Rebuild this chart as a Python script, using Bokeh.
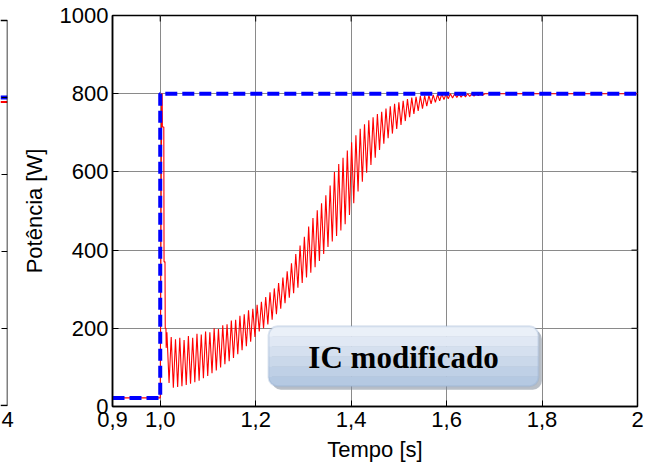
from bokeh.plotting import figure
from bokeh.models import FixedTicker, BoxAnnotation, Label
from bokeh.layouts import row
from bokeh.embed import file_html
from bokeh.resources import INLINE

# ---------------- data ----------------
x_ticks = [0.9, 1.0, 1.2, 1.4, 1.6, 1.8, 2.0]
x_tick_labels = ["0,9", "1,0", "1,2", "1,4", "1,6", "1,8", "2"]
y_ticks = [0, 200, 400, 600, 800, 1000]

# reference power (blue dashed)
ref_t = [0.9, 1.0, 1.0, 2.0]
ref_p = [22, 22, 800, 800]

# measured power (red) - initial transient
trans_t = [0.9, 1.0, 1.003, 1.004, 1.0045, 1.0075, 1.008, 1.0100, 1.0105, 1.0120, 1.0125]
trans_p = [22, 22, 800, 800, 715, 715, 370, 370, 200, 200, 150]

# measured power (red) - oscillation peaks
peak_t = [1.014, 1.023, 1.032, 1.041, 1.050, 1.059, 1.068, 1.077, 1.086, 1.095,
          1.104, 1.113, 1.122, 1.131, 1.140, 1.149, 1.158, 1.167, 1.176, 1.185,
          1.194, 1.203, 1.212, 1.221, 1.230, 1.239, 1.248, 1.257, 1.266, 1.275,
          1.284, 1.293, 1.302, 1.311, 1.320, 1.329, 1.338, 1.347, 1.356, 1.365,
          1.374, 1.383, 1.392, 1.401, 1.410, 1.419, 1.428, 1.437, 1.446, 1.455,
          1.464, 1.473, 1.482, 1.491, 1.500, 1.509, 1.518, 1.527, 1.536, 1.545,
          1.554, 1.563, 1.572, 1.581, 1.590, 1.599, 1.608, 1.617, 1.626, 1.635,
          1.644, 1.653, 1.662, 1.671]
peak_p = [190, 178, 172, 176, 170, 180, 176, 186, 184, 192,
          190, 200, 198, 208, 210, 220, 222, 232, 236, 246,
          250, 260, 268, 280, 292, 302, 316, 330, 346, 366,
          390, 412, 434, 460, 482, 502, 520, 540, 565, 600,
          620, 636, 655, 676, 694, 710, 722, 732, 740, 748,
          754, 762, 768, 774, 778, 782, 786, 790, 792, 794,
          795, 796, 797, 798, 799, 800, 800, 800, 800, 800,
          800, 800, 800, 800]
# measured power (red) - oscillation troughs
trough_t = [1.0185, 1.0275, 1.0365, 1.0455, 1.0545, 1.0635, 1.0725, 1.0815, 1.0905, 1.0995,
            1.1085, 1.1175, 1.1265, 1.1355, 1.1445, 1.1535, 1.1625, 1.1715, 1.1805, 1.1895,
            1.1985, 1.2075, 1.2165, 1.2255, 1.2345, 1.2435, 1.2525, 1.2615, 1.2705, 1.2795,
            1.2885, 1.2975, 1.3065, 1.3155, 1.3245, 1.3335, 1.3425, 1.3515, 1.3605, 1.3695,
            1.3785, 1.3875, 1.3965, 1.4055, 1.4145, 1.4235, 1.4325, 1.4415, 1.4505, 1.4595,
            1.4685, 1.4775, 1.4865, 1.4955, 1.5045, 1.5135, 1.5225, 1.5315, 1.5405, 1.5495,
            1.5585, 1.5675, 1.5765, 1.5855, 1.5945, 1.6035, 1.6125, 1.6215, 1.6305, 1.6395,
            1.6485, 1.6575, 1.6665, 1.6755]
trough_p = [60, 48, 50, 52, 55, 58, 62, 66, 72, 78,
            85, 92, 100, 108, 116, 124, 134, 144, 154, 166,
            178, 192, 200, 210, 222, 236, 250, 264, 278, 290,
            304, 316, 330, 342, 356, 372, 390, 408, 422, 436,
            450, 466, 490, 520, 550, 575, 598, 618, 636, 656,
            672, 686, 698, 710, 720, 730, 740, 748, 756, 762,
            768, 774, 778, 782, 785, 787, 789, 790, 791, 792,
            793, 794, 795, 796]
# steady state tail
tail_t = [1.68, 2.0]
tail_p = [800, 800]

# neighbouring (cut-off) panel on the left
left_x_ticks = [4]
left_x_tick_labels = ["4"]
left_t = [3.9, 4.0]
left_ref_p = [800, 800]
left_meas_p = [788, 788]

# ---------------- build red series ----------------
red_t = list(trans_t)
red_p = list(trans_p)
for a, b, c, d in zip(peak_t, peak_p, trough_t, trough_p):
    red_t += [a, c]
    red_p += [b, d]
red_t += tail_t
red_p += tail_p

FONT = "Liberation Sans"
FRAME_W, FRAME_H = 525, 391
TICK_PX = 6
B_TOP, B_BOT = 15, 65


def style_axis(ax, size="22px"):
    ax.major_tick_in = TICK_PX
    ax.major_tick_out = 0
    ax.minor_tick_line_color = None
    ax.major_label_text_font = FONT
    ax.major_label_text_font_size = size
    ax.major_label_text_color = "black"
    ax.axis_label_text_font = FONT
    ax.axis_label_text_font_size = "22px"
    ax.axis_label_text_font_style = "normal"
    ax.axis_label_text_color = "black"
    ax.axis_line_color = "black"
    ax.axis_line_width = 1.5
    ax.major_tick_line_color = "black"
    ax.major_label_standoff = 5


# ---------------- left sliver panel ----------------
# its own box is a little shorter than the main one: 1000 sits 5px below the main top
lf_lo, lf_hi = -2.6, 1013.0
lf = figure(width=14, height=B_TOP + FRAME_H + B_BOT, x_range=(3.9, 4.0), y_range=(lf_lo, lf_hi),
            output_backend="svg", toolbar_location=None,
            min_border_left=0, min_border_right=7, min_border_top=B_TOP, min_border_bottom=B_BOT,
            y_axis_location=None, background_fill_color="white", border_fill_color="white")
lf.outline_line_color = None
lf.grid.visible = False
lf.xaxis.ticker = FixedTicker(ticks=left_x_ticks)
lf.xaxis.major_label_overrides = {t: s for t, s in zip(left_x_ticks, left_x_tick_labels)}
style_axis(lf.xaxis[0])
lf.xaxis.axis_line_color = None
lf.xaxis.major_tick_line_color = None
lf.line(left_t, left_ref_p, line_color="#0000ff", line_width=4, line_dash="12 5")
lf.line(left_t, left_meas_p, line_color="#ff0000", line_width=2)
# box edges of the sliver
lf.segment(x0=[4.0, 3.9, 3.9], x1=[4.0, 4.0, 4.0], y0=[0, 1000, 0], y1=[1000, 1000, 0],
           line_color="black", line_width=1.5)
# inward ticks on the right edge of the sliver (from the y tick values)
lf_dx = 0.1 / 7 * TICK_PX
lf.segment(x0=[4.0] * len(y_ticks), x1=[4.0 - lf_dx] * len(y_ticks), y0=y_ticks, y1=y_ticks,
           line_color="black", line_width=1)

# ---------------- main panel ----------------
x0r, x1r, y0r, y1r = 0.9, 2.0, 0, 1000
p = figure(frame_width=FRAME_W, frame_height=FRAME_H, x_range=(x0r, x1r), y_range=(y0r, y1r),
           output_backend="svg", toolbar_location=None,
           min_border_left=98, min_border_right=21, min_border_top=B_TOP, min_border_bottom=B_BOT,
           background_fill_color="white", border_fill_color="white")

p.outline_line_color = "black"
p.outline_line_width = 1.5

xt = FixedTicker(ticks=x_ticks)
yt = FixedTicker(ticks=y_ticks)

p.xaxis.ticker = xt
p.yaxis.ticker = yt
p.xaxis.major_label_overrides = {t: s for t, s in zip(x_ticks, x_tick_labels)}
style_axis(p.xaxis[0])
style_axis(p.yaxis[0])
p.yaxis.major_label_standoff = 4
p.xaxis.axis_label = "Tempo [s]"
p.yaxis.axis_label = "Potência [W]"
p.xaxis.axis_label_standoff = 7
p.yaxis.axis_label_standoff = 10

p.xgrid.ticker = xt
p.ygrid.ticker = yt
p.grid.grid_line_color = "#8a8a8a"
p.grid.grid_line_width = 1

# inward ticks on the top and right edges (from the tick arrays)
dy = (y1r - y0r) / FRAME_H * TICK_PX
dx = (x1r - x0r) / FRAME_W * TICK_PX
p.segment(x0=x_ticks, x1=x_ticks, y0=[y1r] * len(x_ticks), y1=[y1r - dy] * len(x_ticks),
          line_color="black", line_width=1)
p.segment(x0=[x1r] * len(y_ticks), x1=[x1r - dx] * len(y_ticks), y0=y_ticks, y1=y_ticks,
          line_color="black", line_width=1)

# curves
p.line(red_t, red_p, line_color="#ff0000", line_width=1.1)
p.line(ref_t, ref_p, line_color="#0000ff", line_width=4, line_dash="12 5")

# annotation box "IC modificado"
bx0, bx1, by0, by1 = 1.2269, 1.7926, 52, 205
p.add_layout(BoxAnnotation(left=bx0 + 0.007, right=bx1 + 0.007, bottom=by0 - 9, top=by1 - 9,
                           fill_color="#7f8a99", fill_alpha=0.55, line_color=None,
                           border_radius=9))
stripe_cols = ["#eaf0f8", "#e0e8f4", "#d5e0ef", "#cad8ea", "#bfd0e6", "#b5c9e2"]
n = len(stripe_cols)
h = (by1 - by0) / n
for i, col in enumerate(stripe_cols):
    top = by1 - i * h
    bot = by1 - (i + 1) * h - (0.6 if i < n - 1 else 0)
    if i == 0:
        rad = (9, 9, 0, 0)
    elif i == n - 1:
        rad = (0, 0, 9, 9)
    else:
        rad = 0
    p.add_layout(BoxAnnotation(left=bx0, right=bx1, bottom=bot, top=top, fill_color=col,
                               fill_alpha=1, line_color=None, border_radius=rad))
p.add_layout(BoxAnnotation(left=bx0, right=bx1, bottom=by0, top=by1, fill_alpha=0,
                           line_color="#8ea8cc", line_width=2, border_radius=9))
p.add_layout(Label(x=(bx0 + bx1) / 2, y=(by0 + by1) / 2 - 2, text="IC modificado",
                   text_font="Liberation Serif", text_font_style="bold",
                   text_font_size="31px", text_color="black",
                   text_align="center", text_baseline="middle"))

layout = row(lf, p)
open("out.html", "w").write(file_html(layout, INLINE))
